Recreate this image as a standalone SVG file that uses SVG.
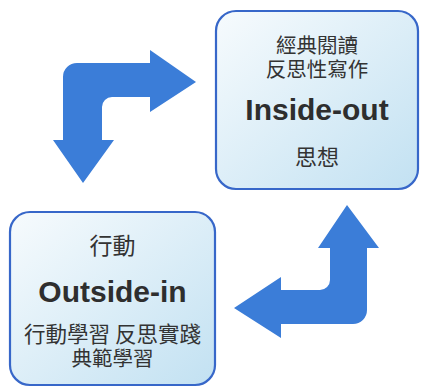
<svg xmlns="http://www.w3.org/2000/svg" width="421" height="387" viewBox="0 0 421 387">
<defs>
<linearGradient id="boxfill" x1="0" y1="0" x2="1" y2="1">
<stop offset="0" stop-color="#f7fbfd"/>
<stop offset="1" stop-color="#c2e1f2"/>
</linearGradient>
<style>
.box{fill:url(#boxfill);stroke:#3767c9;stroke-width:2.2}
.zh{font-family:"Noto Sans CJK TC","Noto Sans CJK SC",sans-serif;font-size:20.5px;fill:#333;text-anchor:middle}
.en{font-family:"Liberation Sans",Arial,sans-serif;font-weight:bold;font-size:30px;fill:#2e2e2e;text-anchor:middle}
.arrow{fill:#3b7dd8}
</style>
</defs>
<rect width="421" height="387" fill="#ffffff"/>
<g id="connectors">
<path class="arrow" d="M150,50 L196,82 L150,112 L150,97 L112,97 A10,10 0 0 0 102,107 L102,140 L114,140 L83,183 L53,140 L63,140 L63,77 A14,14 0 0 1 77,63 L150,63 Z"/>
<path class="arrow" d="M347,205 L379,248 L367,248 L367,310 A14,14 0 0 1 353,324 L281,324 L281,338 L234,308 L281,277 L281,290 L320,290 A10,10 0 0 0 330,280 L330,248 L318,248 Z"/>
</g>
<g id="node-inside-out">
<rect class="box" x="216" y="11" width="202" height="178" rx="20" ry="20"/>
<text class="zh" x="317" y="53">經典閱讀</text>
<text class="zh" x="317" y="77">反思性寫作</text>
<text class="en" x="317" y="120">Inside-out</text>
<text class="zh" x="317" y="165" style="font-size:22px">思想</text>
</g>
<g id="node-outside-in">
<rect class="box" x="10" y="212" width="205" height="173" rx="20" ry="20"/>
<text class="zh" x="112.5" y="254" style="font-size:23px">行動</text>
<text class="en" x="112.5" y="302">Outside-in</text>
<text class="zh" x="112.5" y="342" style="font-size:21.5px">行動學習 反思實踐</text>
<text class="zh" x="112.5" y="366">典範學習</text>
</g>
</svg>
